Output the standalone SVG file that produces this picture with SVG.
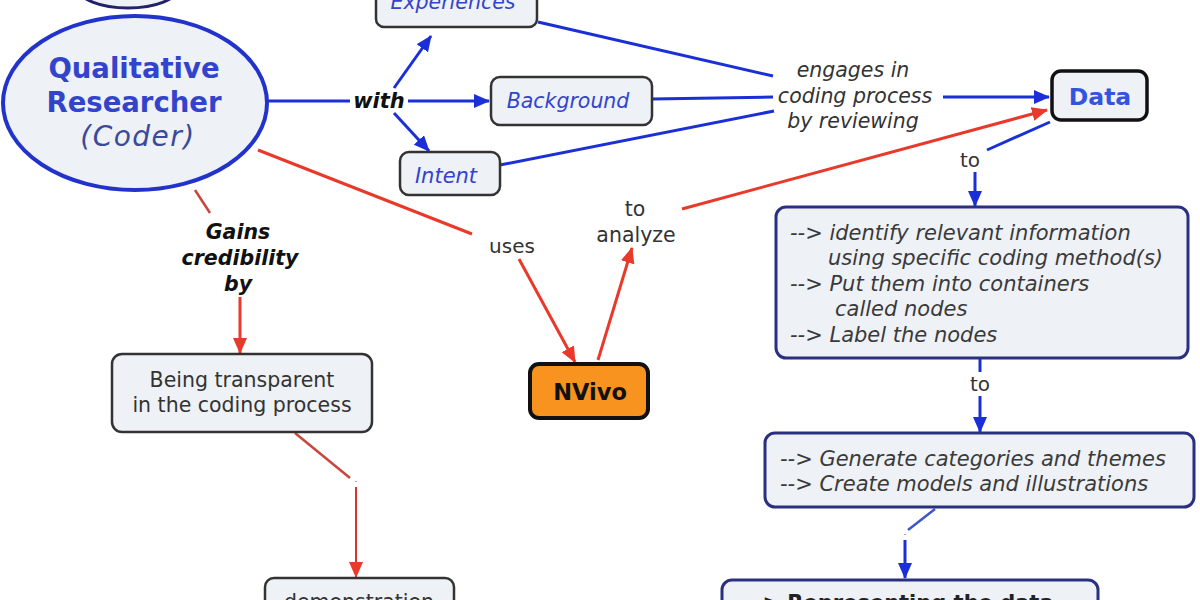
<svg xmlns="http://www.w3.org/2000/svg" width="1200" height="600" viewBox="0 0 1200 600">
<style>
.box{fill:#eef1f6;stroke:#333;stroke-width:2.5}
.pbox{fill:#eef1f6;stroke:#2a3080;stroke-width:3}
.t{font-family:"DejaVu Sans","Liberation Sans",sans-serif}
.blue{fill:#3344cc}
.it{font-style:italic}
.b{stroke:#1a2fd8;stroke-width:3;fill:none}
.r{stroke:#e8392a;stroke-width:3;fill:none}
</style>
<defs>
<marker id="ab" markerWidth="16" markerHeight="14" refX="15" refY="7" orient="auto" markerUnits="userSpaceOnUse" viewBox="0 0 16 14"><path d="M0,0 L16,7 L0,14 Z" fill="#1a2fd8"/></marker>
<marker id="ar" markerWidth="16" markerHeight="14" refX="15" refY="7" orient="auto" markerUnits="userSpaceOnUse" viewBox="0 0 16 14"><path d="M0,0 L16,7 L0,14 Z" fill="#e8392a"/></marker>
</defs>
<rect width="1200" height="600" fill="#fff"/>
<g id="connectors">
<path class="b" d="M268,101 L350,101"/>
<path class="b" d="M408,101 L489,101" marker-end="url(#ab)"/>
<path class="b" d="M394,88 L431,36" marker-end="url(#ab)"/>
<path class="b" d="M394,113 L429,151" marker-end="url(#ab)"/>
<path class="b" d="M538,22 L773,76"/>
<path class="b" d="M652,99 L773,97"/>
<path class="b" d="M500,165 L774,111"/>
<path class="b" d="M943,97 L1049,97" marker-end="url(#ab)"/>
<path class="b" d="M1050,122 L987,150"/>
<path class="b" d="M975,172 L975,206" marker-end="url(#ab)"/>
<path class="b" d="M980,358 L980,372"/>
<path class="b" d="M980,396 L980,432" marker-end="url(#ab)"/>
<path class="b" d="M935,509 L908,530" style="stroke:#4055c8;stroke-width:2.5"/>
<path class="b" d="M905,540 L905,578" marker-end="url(#ab)"/>
<path class="r" d="M258,150 L472,234"/>
<path class="r" d="M519,259 L575,362" marker-end="url(#ar)"/>
<path class="r" d="M598,360 L632,248" marker-end="url(#ar)"/>
<path class="r" d="M682,209 L1047,110" marker-end="url(#ar)"/>
<path class="r" d="M195,190 L210,213" style="stroke:#c9463d;stroke-width:2.5"/>
<path class="r" d="M240,297 L240,353" marker-end="url(#ar)"/>
<path class="r" d="M295,433 L350,478" style="stroke:#c9463d;stroke-width:2.5"/>
<path class="r" d="M356,487 L356,577" style="stroke:#d8362c;stroke-width:2" marker-end="url(#ar)"/>
<text x="356" y="484" text-anchor="middle" class="t" font-size="8" fill="#888">-</text>
<text x="905" y="537" text-anchor="middle" class="t" font-size="8" fill="#888">-</text>
<text x="379" y="108" text-anchor="middle" class="t it" font-size="21" font-weight="bold" fill="#111">with</text>
<text class="t it" font-size="20.5" text-anchor="middle" fill="#333"><tspan x="853" y="77">engages in</tspan><tspan x="855" y="103">coding process</tspan><tspan x="853" y="128">by reviewing</tspan></text>
<text x="970" y="167" text-anchor="middle" class="t" font-size="20" fill="#333">to</text>
<text x="980" y="391" text-anchor="middle" class="t" font-size="20" fill="#333">to</text>
<text x="512" y="253" text-anchor="middle" class="t" font-size="20" fill="#333">uses</text>
<text class="t" font-size="20.5" text-anchor="middle" fill="#333"><tspan x="635" y="216">to</tspan><tspan x="636" y="242">analyze</tspan></text>
<text class="t it" font-size="20.5" font-weight="bold" text-anchor="middle" fill="#111"><tspan x="238" y="239">Gains</tspan><tspan x="240" y="265">credibility</tspan><tspan x="238" y="291">by</tspan></text>
</g>
<g id="node-top">
<ellipse cx="128" cy="-12" rx="50" ry="20" fill="#eef1f6" stroke="#22226a" stroke-width="3"/>
</g>
<g id="node-researcher">
<ellipse cx="135" cy="103" rx="132" ry="87" fill="#eef1f6" stroke="#2233cc" stroke-width="4"/>
<text class="t" font-size="27.5" font-weight="bold" text-anchor="middle" fill="#3344cc"><tspan x="134" y="78">Qualitative</tspan><tspan x="134" y="112">Researcher</tspan></text>
<text x="138" y="146" class="t it" font-size="28" text-anchor="middle" fill="#3a4a9a" letter-spacing="1.5">(Coder)</text>
</g>
<g id="node-experiences">
<rect x="376" y="-12" width="161" height="39" rx="8" class="box"/>
<text x="453" y="9" text-anchor="middle" class="t it blue" font-size="20.5">Experiences</text>
</g>
<g id="node-background">
<rect x="491" y="77" width="161" height="48" rx="9" class="box"/>
<text x="568" y="108" text-anchor="middle" class="t it blue" font-size="20.5">Background</text>
</g>
<g id="node-intent">
<rect x="400" y="152" width="100" height="43" rx="9" class="box"/>
<text x="446" y="183" text-anchor="middle" class="t it blue" font-size="21">Intent</text>
</g>
<g id="node-data">
<rect x="1052" y="71" width="95" height="49" rx="9" fill="#eef1f6" stroke="#111" stroke-width="3.5"/>
<text x="1100" y="105" text-anchor="middle" class="t" font-size="23.5" font-weight="bold" fill="#3355dd">Data</text>
</g>
<g id="node-steps1">
<rect x="776" y="207" width="412" height="151" rx="10" class="pbox"/>
<text class="t it" font-size="21" fill="#3a3a3a"><tspan x="790" y="240">--&gt; identify relevant information</tspan><tspan x="828" y="265">using specific coding method(s)</tspan><tspan x="790" y="291">--&gt; Put them into containers</tspan><tspan x="835" y="316">called nodes</tspan><tspan x="790" y="342">--&gt; Label the nodes</tspan></text>
</g>
<g id="node-steps2">
<rect x="765" y="433" width="429" height="74" rx="10" class="pbox"/>
<text class="t it" font-size="21" fill="#3a3a3a"><tspan x="780" y="466">--&gt; Generate categories and themes</tspan><tspan x="780" y="491">--&gt; Create models and illustrations</tspan></text>
</g>
<g id="node-steps3">
<rect x="722" y="580" width="376" height="40" rx="10" class="pbox"/>
<text x="745" y="610" class="t" font-size="21" font-weight="bold" fill="#222">--&gt; Representing the data</text>
</g>
<g id="node-nvivo">
<rect x="530" y="364" width="118" height="54" rx="9" fill="#f7931e" stroke="#111" stroke-width="4"/>
<text x="590" y="400" text-anchor="middle" class="t" font-size="22.5" font-weight="bold" fill="#111">NVivo</text>
</g>
<g id="node-transparent">
<rect x="112" y="354" width="260" height="78" rx="10" class="box"/>
<text class="t" font-size="20.5" text-anchor="middle" fill="#333"><tspan x="242" y="387">Being transparent</tspan><tspan x="242" y="412">in the coding process</tspan></text>
</g>
<g id="node-demonstrating">
<rect x="265" y="578" width="189" height="42" rx="9" class="box"/>
<text x="359" y="609" text-anchor="middle" class="t" font-size="20.5" fill="#333">demonstration</text>
</g>
</svg>
